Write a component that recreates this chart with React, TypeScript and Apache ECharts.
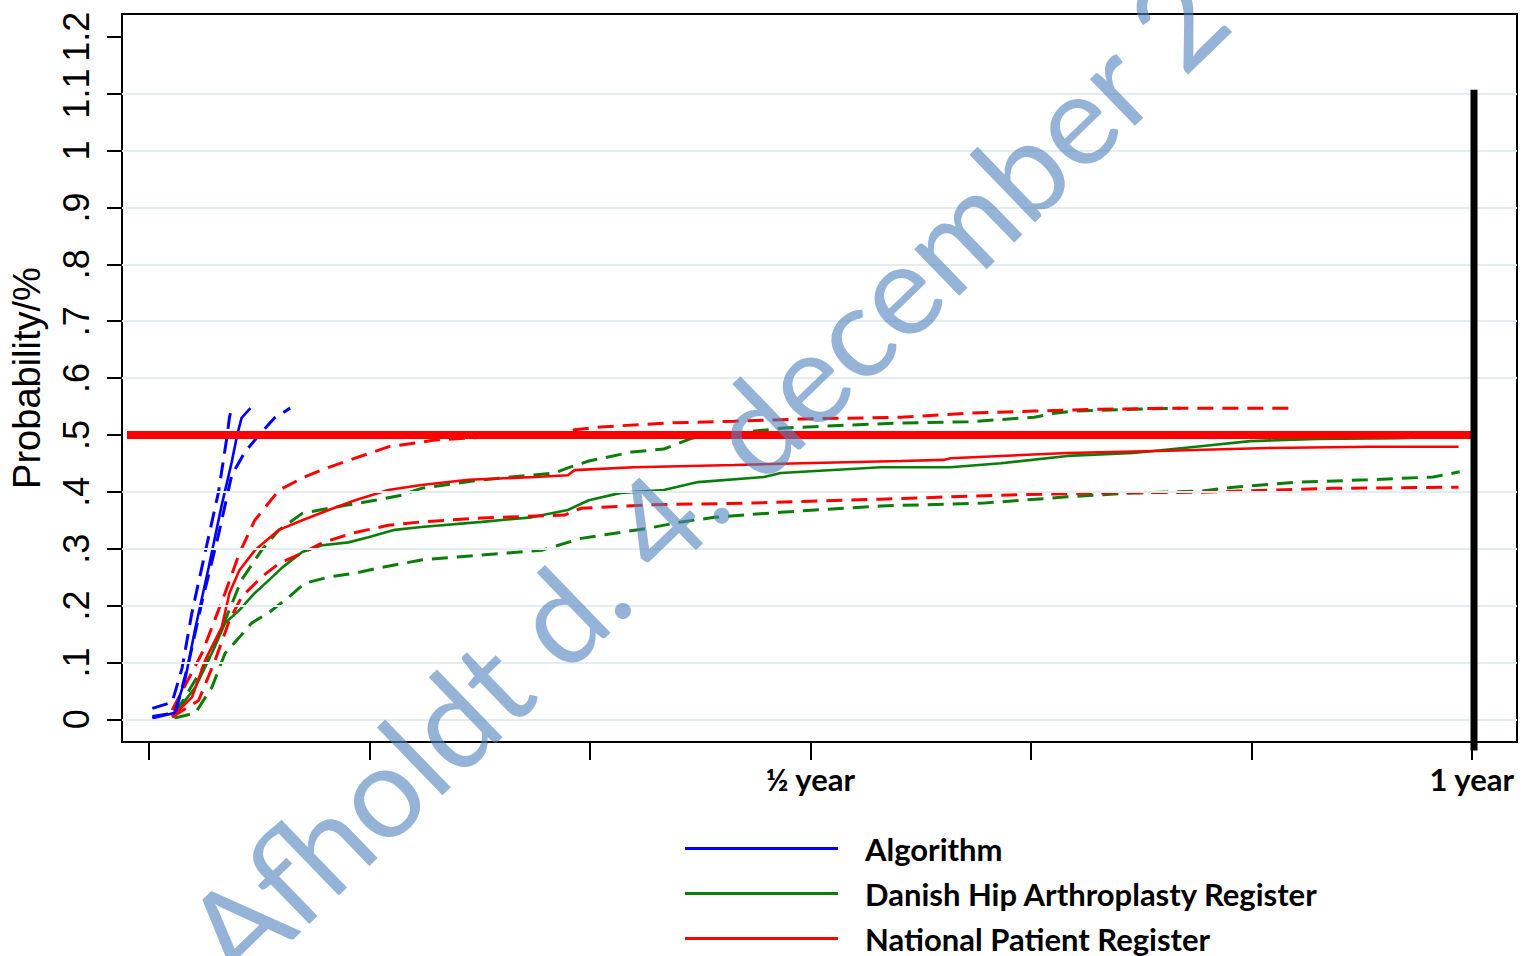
import React, { useEffect, useRef } from "react";
import * as echarts from "echarts";

// x in months after surgery (6 = half a year, 12 = one year), y = probability
const xTickValues = [0, 2, 4, 6, 8, 10, 12];
const xLabelValues = [6, 12];
const xLabelTexts = ["½ year", "1 year"];
const yTickValues = [0, 0.1, 0.2, 0.3, 0.4, 0.5, 0.6, 0.7, 0.8, 0.9, 1.0, 1.1, 1.2];
const yTickLabels = ["0", ".1", ".2", ".3", ".4", ".5", ".6", ".7", ".8", ".9", "1", "1.1", "1.2"];
const gridValues = [0, 0.1, 0.2, 0.3, 0.4, 0.6, 0.7, 0.8, 0.9, 1.0, 1.1];

const legendNames = ["Algorithm", "Danish Hip Arthroplasty Register", "National Patient Register"];

const algoMid = [[0.03, 0.002], [0.23, 0.011], [0.33, 0.072], [0.42, 0.16], [0.54, 0.266], [0.66, 0.377], [0.75, 0.452], [0.8, 0.5], [0.84, 0.53], [0.92, 0.547]];
const algoUpper = [[0.03, 0.019], [0.21, 0.03], [0.3, 0.09], [0.39, 0.188], [0.51, 0.294], [0.63, 0.399], [0.71, 0.5], [0.73, 0.531], [0.75, 0.547]];
const algoLower = [[0.03, 0.005], [0.24, 0.011], [0.36, 0.1], [0.48, 0.206], [0.63, 0.324], [0.75, 0.429], [0.87, 0.47], [1.0, 0.5], [1.14, 0.53], [1.28, 0.547]];

const dhrMid = [[0.21, 0.004], [0.42, 0.056], [0.57, 0.116], [0.69, 0.169], [0.82, 0.192], [0.96, 0.222], [1.09, 0.245], [1.21, 0.267], [1.39, 0.294], [1.57, 0.306], [1.81, 0.311], [1.99, 0.32], [2.23, 0.333], [2.47, 0.338], [3.02, 0.347], [3.47, 0.355], [3.8, 0.368], [3.99, 0.385], [4.28, 0.398], [4.67, 0.403], [4.98, 0.417], [5.58, 0.426], [5.73, 0.433], [6.64, 0.443], [7.27, 0.443], [7.73, 0.45], [8.33, 0.463], [8.93, 0.468], [9.54, 0.48], [9.99, 0.489], [10.6, 0.493], [11.35, 0.494], [11.85, 0.498], [11.89, 0.505]];
const dhrUpper = [[0.24, 0.011], [0.42, 0.069], [0.57, 0.116], [0.69, 0.174], [0.84, 0.245], [1.02, 0.297], [1.18, 0.333], [1.39, 0.362], [1.63, 0.371], [1.81, 0.377], [2.05, 0.385], [2.29, 0.394], [2.47, 0.406], [3.02, 0.421], [3.68, 0.433], [3.8, 0.442], [3.99, 0.454], [4.38, 0.47], [4.67, 0.475], [4.92, 0.494], [5.31, 0.503], [5.76, 0.512], [6.21, 0.516], [6.82, 0.521], [7.43, 0.523], [8.03, 0.531], [8.21, 0.538], [8.39, 0.542], [8.93, 0.545], [9.36, 0.547]];
const dhrLower = [[0.23, 0.002], [0.42, 0.011], [0.57, 0.056], [0.69, 0.116], [0.82, 0.144], [0.93, 0.169], [1.09, 0.188], [1.27, 0.215], [1.41, 0.239], [1.63, 0.25], [1.87, 0.257], [2.11, 0.267], [2.47, 0.28], [3.02, 0.289], [3.56, 0.297], [3.92, 0.318], [4.53, 0.336], [4.83, 0.347], [5.13, 0.355], [5.73, 0.364], [6.64, 0.375], [7.57, 0.38], [8.33, 0.391], [8.93, 0.398], [9.54, 0.401], [9.84, 0.408], [10.44, 0.417], [11.05, 0.421], [11.65, 0.426], [11.89, 0.435]];

const nprMid = [[0.21, 0.004], [0.39, 0.039], [0.51, 0.104], [0.66, 0.162], [0.73, 0.222], [0.82, 0.262], [0.96, 0.297], [1.18, 0.333], [1.39, 0.35], [1.63, 0.368], [1.87, 0.385], [2.17, 0.403], [2.47, 0.412], [2.9, 0.421], [3.5, 0.426], [3.8, 0.429], [3.86, 0.438], [4.4, 0.443], [5.31, 0.447], [5.92, 0.45], [6.82, 0.454], [7.21, 0.456], [7.27, 0.459], [8.33, 0.468], [9.24, 0.472], [10.15, 0.477], [11.08, 0.479], [11.88, 0.479]];
const nprUpper = [[0.21, 0.016], [0.48, 0.116], [0.69, 0.222], [0.82, 0.292], [0.96, 0.35], [1.18, 0.403], [1.41, 0.426], [1.63, 0.443], [1.87, 0.459], [2.17, 0.479], [2.47, 0.487], [2.59, 0.491], [3.04, 0.496], [3.74, 0.5], [3.86, 0.509], [4.1, 0.514], [4.71, 0.521], [5.31, 0.524], [5.92, 0.528], [6.82, 0.531], [7.43, 0.538], [8.03, 0.542], [8.63, 0.545], [9.24, 0.547], [10.35, 0.547]];
const nprLower = [[0.21, 0.004], [0.45, 0.033], [0.6, 0.104], [0.73, 0.174], [0.84, 0.215], [1.02, 0.25], [1.18, 0.274], [1.39, 0.292], [1.57, 0.31], [1.84, 0.327], [2.17, 0.341], [2.47, 0.347], [3.02, 0.354], [3.77, 0.359], [3.92, 0.371], [4.53, 0.377], [5.44, 0.38], [6.64, 0.387], [7.73, 0.394], [8.63, 0.398], [9.54, 0.399], [10.74, 0.406], [11.88, 0.408]];

const thresholdLine = [[-0.2, 0.5], [12.03, 0.5]];
const oneYearLine = [[12.02, 1.107], [12.02, -0.055]];

const BLUE = "#0000ff";
const GREEN = "#0b7d0b";
const RED = "#ff0000";

function line(name: string, data: number[][], color: string, dashed: boolean, z = 2) {
  return {
    name,
    type: "line",
    data,
    showSymbol: false,
    symbol: "none",
    z,
    color,
    lineStyle: { color, width: dashed ? 3 : 2.6, type: dashed ? [16, 9] : "solid" },
  };
}

export default function App() {
  const ref = useRef<HTMLDivElement>(null);
  useEffect(() => {
    if (!ref.current) return;
    const chart = echarts.init(ref.current, null, { renderer: "svg" });
    chart.setOption({
      animation: false,
      backgroundColor: "#ffffff",
      grid: { left: 120, right: 9, top: 14, bottom: 214, show: true, borderColor: "#000", borderWidth: 2, backgroundColor: "transparent" },
      xAxis: {
        type: "value",
        min: -0.245,
        max: 12.41,
        axisLine: { show: true, onZero: false, lineStyle: { color: "#000", width: 2 } },
        axisTick: { show: true, customValues: xTickValues, length: 18, lineStyle: { color: "#000", width: 2 } },
        axisLabel: {
          customValues: xLabelValues,
          formatter: (v: number) => xLabelTexts[xLabelValues.indexOf(v)] ?? "",
          fontFamily: "Lato",
          fontWeight: "bold",
          fontSize: 31,
          color: "#000",
          margin: 21,
        },
        splitLine: { show: false },
      },
      yAxis: {
        type: "value",
        min: -0.04,
        max: 1.24,
        axisLine: { show: true, onZero: false, lineStyle: { color: "#000", width: 2 } },
        axisTick: { show: true, customValues: yTickValues, length: 15, lineStyle: { color: "#000", width: 2 } },
        axisLabel: {
          customValues: yTickValues,
          rotate: 90,
          formatter: (v: number) => {
            const i = yTickValues.findIndex((t) => Math.abs(t - v) < 1e-6);
            return i >= 0 ? yTickLabels[i] : "";
          },
          fontFamily: "Liberation Sans",
          fontSize: 36,
          color: "#000",
          margin: 28,
        },
        splitLine: { show: false },
        name: "Probability/%",
        nameLocation: "middle",
        nameGap: 76,
        nameTextStyle: { fontFamily: "Liberation Sans", fontSize: 38, color: "#000" },
      },
      legend: {
        data: legendNames,
        orient: "vertical",
        left: 685,
        top: 833,
        height: 200,
        padding: 0,
        icon: "rect",
        itemWidth: 153,
        itemHeight: 3,
        itemGap: 14,
        textStyle: { fontFamily: "Lato", fontWeight: "bold", fontSize: 31, color: "#000", padding: [0, 0, 0, 22], lineHeight: 30 },
      },
      series: [
        {
          name: "grid",
          type: "line",
          data: [],
          z: 1,
          markLine: {
            silent: true,
            symbol: "none",
            label: { show: false },
            lineStyle: { color: "#e3edef", width: 2, type: "solid" },
            data: gridValues.map((v) => ({ yAxis: v })),
          },
        },
        line("Danish Hip Arthroplasty Register", dhrMid, GREEN, false),
        line("DHR upper", dhrUpper, GREEN, true),
        line("DHR lower", dhrLower, GREEN, true),
        line("National Patient Register", nprMid, RED, false, 3),
        line("NPR upper", nprUpper, RED, true, 3),
        line("NPR lower", nprLower, RED, true, 3),
        line("Algorithm", algoMid, BLUE, false, 4),
        line("Algorithm upper", algoUpper, BLUE, true, 4),
        line("Algorithm lower", algoLower, BLUE, true, 4),
        {
          name: "threshold",
          type: "line",
          data: thresholdLine,
          symbol: "none",
          z: 5,
          color: RED,
          lineStyle: { color: RED, width: 8 },
        },
        {
          name: "one year",
          type: "line",
          data: oneYearLine,
          symbol: "none",
          clip: false,
          z: 5,
          color: "#000",
          lineStyle: { color: "#000", width: 7 },
        },
      ],
      graphic: [
        {
          type: "text",
          x: 205,
          y: 956,
          rotation: 0.768,
          z: 100,
          silent: true,
          style: {
            text: "Afholdt d. 4. december 2",
            fill: "rgba(79,129,189,0.6)",
            fontFamily: "Lato",
            fontSize: 128,
            align: "left",
            verticalAlign: "middle",
          },
        },
      ],
    });
    return () => chart.dispose();
  }, []);
  return <div ref={ref} style={{ position: "absolute", left: 0, top: 0, width: 1526, height: 956 }} />;
}
